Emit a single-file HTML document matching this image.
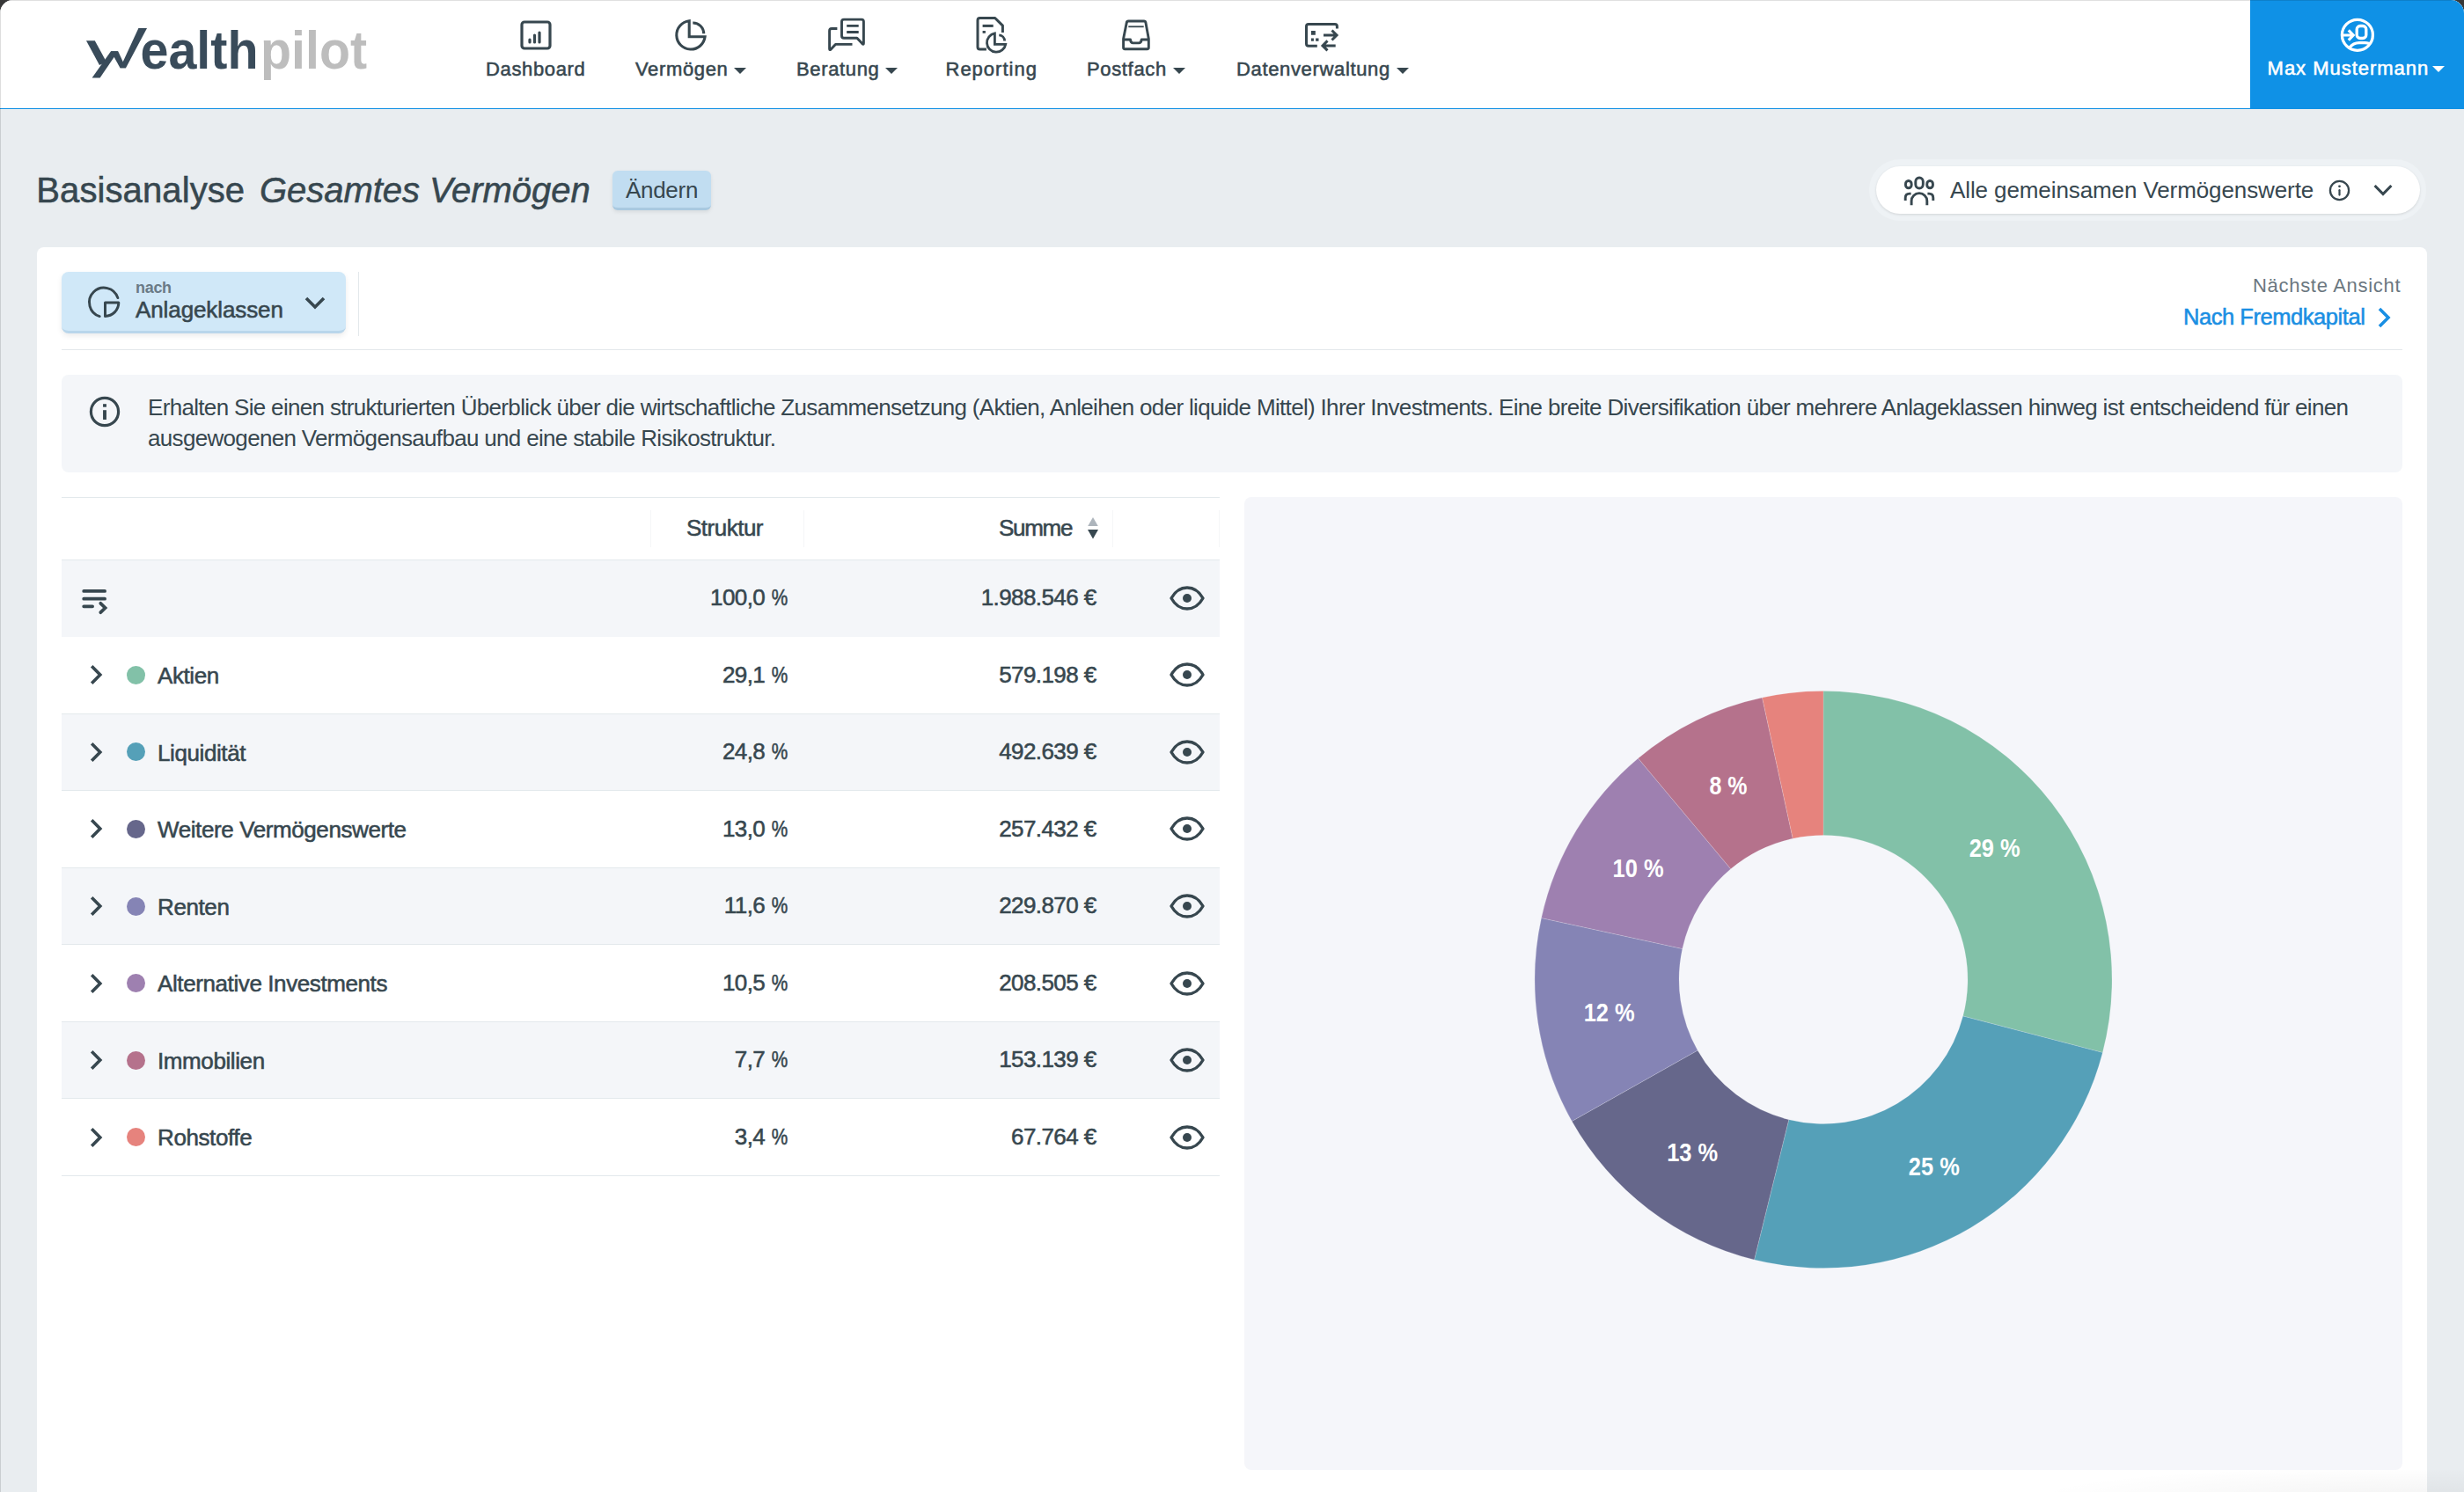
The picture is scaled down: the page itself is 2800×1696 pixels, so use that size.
<!DOCTYPE html>
<html><head><meta charset="utf-8">
<style>
*{box-sizing:border-box;margin:0;padding:0}
html,body{width:2800px;height:1696px;overflow:hidden;background:#383838}
body{font-family:"Liberation Sans",sans-serif;color:#37474f;position:relative}
#win{position:absolute;left:0;top:0;width:2800px;height:1696px;background:#e9edf0;border-radius:15px 15px 0 0;overflow:hidden}
#edgeL{position:absolute;left:0;top:0;width:1px;height:1696px;background:rgba(0,0,0,0.13);z-index:5}
#edgeT{position:absolute;left:0;top:0;width:2800px;height:1px;background:rgba(0,0,0,0.12);z-index:5}
.a{position:absolute;white-space:nowrap;line-height:1}
.med{-webkit-text-stroke:0.55px currentColor}
#nav{position:absolute;left:0;top:0;width:2800px;height:124px;background:#fff;border-bottom:1px solid #0f8fe3}
#user{position:absolute;left:2557px;top:0;width:243px;height:123px;background:#0f91e6}
.navi{position:absolute;top:0;height:122px}
.caret{display:inline-block;width:0;height:0;border-left:7px solid transparent;border-right:7px solid transparent;border-top:7px solid #37474f;vertical-align:middle}
#card{position:absolute;left:42px;top:281px;width:2716px;height:1500px;background:#fff;border-radius:8px}
.row{position:absolute;left:70px;width:1316px;height:88px}
.gray{background:#f4f6f9}
.bb{border-bottom:1px solid #e3e9ec}
.dot{position:absolute;width:21px;height:21px;border-radius:50%}
</style></head><body>
<div id="win">
  <div id="nav">
    <!-- logo -->
    <svg class="a" style="left:0;top:0" width="440" height="122" viewBox="0 0 440 122">
      <g fill="#394b5a">
        <path d="M98 46.2H107.8L121 70.5L113 74Z"/>
        <path d="M104.6 88.5H113.6L134.2 58.2H126Z"/>
        <path d="M126 58.2H134.2L143 77.2H136.5Z"/>
        <path d="M136.5 77.2H143L167 31.9H157.4Z"/>
      </g>
      <text x="159.5" y="77.5" font-family="Liberation Sans" font-weight="700" font-size="61" fill="#394b5a" textLength="134" lengthAdjust="spacingAndGlyphs">ealth</text>
      <text x="296" y="77.5" font-family="Liberation Sans" font-weight="700" font-size="61" fill="#bdbdbd" textLength="121" lengthAdjust="spacingAndGlyphs">pilot</text>
    </svg>

    <!-- nav items -->
    <svg class="a" style="left:591px;top:23px" width="36" height="34" viewBox="0 0 36 34"><rect x="2" y="2" width="32" height="30" rx="3" fill="none" stroke="#37474f" stroke-width="3.2"/><path d="M11 25v-3M16.5 25v-8M22 25v-11" stroke="#37474f" stroke-width="3.2" stroke-linecap="round"/></svg>
    <div class="a med" style="left:552px;top:68px;font-size:22px;letter-spacing:0.65px">Dashboard</div>

    <svg class="a" style="left:760px;top:16px" width="50" height="46" viewBox="0 0 50 46"><path d="M23.2 7.75V25.8H41.1A16.2 16.2 0 1 1 23.2 7.75Z" fill="none" stroke="#37474f" stroke-width="3.1"/><path d="M27.3 10A12.2 12.2 0 0 1 39.7 22.2" fill="none" stroke="#37474f" stroke-width="3.1"/></svg>
    <div class="a med" style="left:722px;top:68px;font-size:22px;letter-spacing:0.65px">Vermögen <span class="caret"></span></div>

    <svg class="a" style="left:935px;top:14px" width="60" height="50" viewBox="0 0 60 50"><path d="M21.5 10.6Q21.5 8.1 24 8.1H44Q46.4 8.1 46.4 10.6V35.3Q46.4 37.2 44.8 35.6L38.9 29.3H24Q21.5 29.3 21.5 26.8Z" fill="none" stroke="#37474f" stroke-width="2.9" stroke-linejoin="round"/><path d="M27.2 15.4H40.7M27.2 22.5H40.7" stroke="#37474f" stroke-width="2.9"/><path d="M16.4 18.5H10.1Q7.6 18.5 7.6 21V41.5Q7.6 43.6 9.2 41.9L14.4 36.4H33.5" fill="none" stroke="#37474f" stroke-width="2.9" stroke-linejoin="round"/></svg>
    <div class="a med" style="left:905px;top:68px;font-size:22px;letter-spacing:0.65px">Beratung <span class="caret"></span></div>

    <svg class="a" style="left:1100px;top:12px" width="60" height="52" viewBox="0 0 60 52"><path d="M20.9 43.9H13.5Q11 43.9 11 41.4V11Q11 8.5 13.5 8.5H30.7L39.4 17.1V25.1" fill="none" stroke="#37474f" stroke-width="3" stroke-linejoin="round"/><path d="M16.6 17.4H28.7" stroke="#37474f" stroke-width="3"/><rect x="16.6" y="23" width="3.3" height="2.8" fill="#37474f"/><path d="M30.4 25.95V38.4H42.73A10.7 10.7 0 1 1 30.4 25.95Z" fill="none" stroke="#37474f" stroke-width="2.8"/><path d="M35.3 27.8A6.9 6.9 0 0 1 41.6 34.6" fill="none" stroke="#37474f" stroke-width="2.8"/></svg>
    <div class="a med" style="left:1074.5px;top:68px;font-size:22px;letter-spacing:1.0px">Reporting</div>

    <svg class="a" style="left:1265px;top:14px" width="55" height="50" viewBox="0 0 55 50"><path d="M11.6 40V30L15.3 11.6Q15.6 10 17.2 10H35Q36.6 10 36.9 11.6L40.3 30V40Q40.3 41.7 38.6 41.7H13.3Q11.6 41.7 11.6 40Z" fill="none" stroke="#37474f" stroke-width="2.9" stroke-linejoin="round"/><path d="M11.6 31H19.5Q20 34.9 22.5 34.9H29.2Q31.7 34.9 32.2 31H40.3" fill="none" stroke="#37474f" stroke-width="2.9" stroke-linejoin="round"/><path d="M17.3 16.3H34.7" stroke="#37474f" stroke-width="1.8"/></svg>
    <div class="a med" style="left:1235px;top:68px;font-size:22px;letter-spacing:0.65px">Postfach <span class="caret"></span></div>

    <svg class="a" style="left:1475px;top:14px" width="55" height="50" viewBox="0 0 55 50"><path d="M21.8 38.2H12Q9.5 38.2 9.5 35.7V16.1Q9.5 13.6 12 13.6H41.9Q44.4 13.6 44.4 16.1V18.6" fill="none" stroke="#37474f" stroke-width="3" stroke-linejoin="round"/><path d="M14.9 20.9h4.9v4.9h-4.9zM14.9 29.5h3v3.2h-3zM20.1 29.5h3.4v3.2h-3.4z" fill="#37474f"/><path d="M29 26H43M38.5 20.5L44 26L38.5 31.5M42.7 37.9H28.5M33.5 32.4L28 37.9L33.5 43.4" fill="none" stroke="#37474f" stroke-width="3"/></svg>
    <div class="a med" style="left:1405px;top:68px;font-size:22px;letter-spacing:0.65px">Datenverwaltung <span class="caret"></span></div>

    <div id="user">
      
      <div class="a med" style="left:19.6px;top:66.5px;font-size:22px;color:#fff;letter-spacing:0.98px">Max Mustermann <span class="caret" style="border-top-color:#fff;margin-left:-3px"></span></div>
    </div>
  </div>

  <svg class="a" style="left:2650px;top:14px" width="55" height="52" viewBox="0 0 55 52"><circle cx="28.9" cy="25.8" r="17.5" fill="none" stroke="#fff" stroke-width="3.3"/><rect x="28.2" y="15.5" width="10.6" height="14" rx="3.8" fill="none" stroke="#fff" stroke-width="3.3"/><path d="M13 26H23M18.8 20.4L24.2 26L18.8 31.6" fill="none" stroke="#fff" stroke-width="3.2"/><path d="M20 40C23 36 26 34.6 31 34.6H37.5C39.5 34.6 41 35 43 35.5" fill="none" stroke="#fff" stroke-width="3.2"/></svg>
  <!-- title -->
  <div class="a med" style="left:41.3px;top:196px;font-size:40px;letter-spacing:0.1px">Basisanalyse</div><div class="a med" style="left:295px;top:196px;font-size:40px;letter-spacing:-0.05px;font-style:italic">Gesamtes Vermögen</div>
  <div class="a" style="left:696px;top:194px;width:112px;height:45px;background:#c1ddf1;border-radius:6px;border-bottom:3px solid #a9c9e0;box-shadow:0 2px 4px rgba(0,0,0,0.08)"></div>
  <div class="a" style="left:711px;top:203px;font-size:26px;letter-spacing:-0.3px">Ändern</div>

  <!-- right pill -->
  <div class="a" style="left:2124px;top:181px;width:633px;height:70px;border-radius:35px;background:#eef2f5"></div>
  <div class="a" style="left:2132px;top:189px;width:618px;height:54px;border-radius:27px;background:#fff;box-shadow:0 1px 3px rgba(0,0,0,0.12)"></div>
  <svg class="a" style="left:2155px;top:192px" width="50" height="48" viewBox="0 0 50 48"><g fill="none" stroke="#37474f" stroke-width="2.9"><rect x="10.45" y="13.55" width="6.7" height="8.2" rx="3.35" ry="3.6"/><rect x="21.8" y="9.95" width="8.5" height="12.1" rx="4.25" ry="4.6"/><rect x="34.75" y="13.55" width="6.7" height="8.2" rx="3.35" ry="3.6"/><path d="M16.6 28.1H15Q10.2 28.1 10.2 33V35.9"/><path d="M17.1 41.2V36.5A8.85 8.85 0 0 1 34.8 36.5V41.2"/><path d="M35.4 28.1H37Q41.8 28.1 41.8 33V35.9"/></g></svg>
  <div class="a" style="left:2216px;top:203px;font-size:26px;letter-spacing:-0.1px">Alle gemeinsamen Vermögenswerte</div>
  <svg class="a" style="left:2646px;top:204px" width="25" height="25" viewBox="0 0 25 25"><circle cx="12.5" cy="12.5" r="10.6" fill="none" stroke="#37474f" stroke-width="2.3"/><path d="M12.5 12.2V17.6" stroke="#37474f" stroke-width="2.2" stroke-linecap="round"/><circle cx="12.5" cy="7.8" r="1.4" fill="#37474f"/></svg>
  <svg class="a" style="left:2696px;top:208px" width="24" height="16" viewBox="0 0 24 16"><path d="M2.6 3L12 12.6L21.4 3" fill="none" stroke="#37474f" stroke-width="3.1"/></svg>

  <!-- card -->
  <div id="card"></div>
  <div class="a" style="left:70px;top:309px;width:323px;height:70px;background:#d0e8f8;border-radius:8px;border-bottom:3px solid #b9d6eb;box-shadow:0 3px 6px rgba(0,0,0,0.08)"></div>
  <svg class="a" style="left:90px;top:315px" width="60" height="55" viewBox="0 0 60 55"><path d="M23.2 44.6A16.6 16.6 0 1 1 43.9 23.6" fill="none" stroke="#37474f" stroke-width="2.9" stroke-linecap="round"/><path d="M29.5 29.1H44.8A15.3 15.3 0 0 1 29.5 44.4Z" fill="none" stroke="#37474f" stroke-width="3" stroke-linejoin="round"/></svg>
  <div class="a" style="left:154px;top:318px;font-size:18px;font-weight:700;color:#6a7a86;letter-spacing:-0.3px">nach</div>
  <div class="a med" style="left:154px;top:339px;font-size:26px;letter-spacing:-0.1px">Anlageklassen</div>
  <svg class="a" style="left:346px;top:336px" width="24" height="17" viewBox="0 0 24 17"><path d="M2 3L12 13L22 3" fill="none" stroke="#37474f" stroke-width="3.6"/></svg>
  <div class="a" style="left:407px;top:309px;width:1px;height:73px;background:#e3e8eb"></div>
  <div class="a" style="left:70px;top:397px;width:2660px;height:1px;background:#e3e8eb"></div>
  <div class="a" style="left:2560px;top:314px;font-size:22px;color:#6b7780;letter-spacing:0.7px">Nächste Ansicht</div>
  <div class="a med" style="left:2481px;top:347.5px;font-size:25.5px;color:#1a8fe3;letter-spacing:-0.45px">Nach Fremdkapital</div>
  <svg class="a" style="left:2700px;top:349px" width="18" height="24" viewBox="0 0 18 24"><path d="M4 2L14 12L4 22" fill="none" stroke="#1a8fe3" stroke-width="3.6"/></svg>

  <!-- info box -->
  <div class="a" style="left:70px;top:426px;width:2660px;height:111px;background:#f4f6f9;border-radius:8px"></div>
  <svg class="a" style="left:100px;top:449px" width="38" height="38" viewBox="0 0 38 38"><circle cx="19" cy="19" r="15.6" fill="none" stroke="#37474f" stroke-width="3.2"/><path d="M19 17.2V28" stroke="#37474f" stroke-width="3.9"/><rect x="17.05" y="10.2" width="3.9" height="3.5" fill="#37474f"/></svg>
  <div class="a" style="left:168px;top:446px;font-size:26px;line-height:34.6px;white-space:normal;width:2600px;letter-spacing:-0.675px">Erhalten Sie einen strukturierten Überblick über die wirtschaftliche Zusammensetzung (Aktien, Anleihen oder liquide Mittel) Ihrer Investments. Eine breite Diversifikation über mehrere Anlageklassen hinweg ist entscheidend für einen<br>ausgewogenen Vermögensaufbau und eine stabile Risikostruktur.</div>

  <!-- table -->
  <div class="a" style="left:70px;top:565px;width:1316px;height:1px;background:#e3e9ec"></div>
  <div class="a" style="left:739px;top:580px;width:1px;height:42px;background:#f5f6f8"></div>
  <div class="a" style="left:913px;top:580px;width:1px;height:42px;background:#f5f6f8"></div>
  <div class="a" style="left:1264px;top:580px;width:1px;height:42px;background:#f5f6f8"></div>
  <div class="a" style="left:1385px;top:580px;width:1px;height:42px;background:#f5f6f8"></div>
  <div class="a med" style="left:780px;top:587px;font-size:26px;letter-spacing:-0.5px">Struktur</div>
  <div class="a med" style="left:1135px;top:587px;font-size:26px;letter-spacing:-1.3px">Summe</div>
  <svg class="a" style="left:1234px;top:587px" width="16" height="28" viewBox="0 0 16 28"><path d="M2.2 11L8 1L13.8 11Z" fill="#adb5bc"/><path d="M2 15L8 25.6L14 15Z" fill="#37474f"/></svg>
  <div class="a" style="left:70px;top:636px;width:1316px;height:1px;background:#e3e9ec"></div>

  <!--ROWS-->
<div class="row gray" style="top:636.0px;height:87.5px"></div>
<div class="row gray" style="top:811.10px;height:87.55px"></div>
<div class="row gray" style="top:986.20px;height:87.55px"></div>
<div class="row gray" style="top:1161.30px;height:87.55px"></div>
<div class="a" style="left:70px;top:636px;width:1316px;height:1px;background:#e3e9ec"></div>
<div class="a" style="left:70px;width:1316px;top:810.50px;height:1px;background:#e3e9ec"></div>
<div class="a" style="left:70px;width:1316px;top:898.05px;height:1px;background:#e3e9ec"></div>
<div class="a" style="left:70px;width:1316px;top:985.60px;height:1px;background:#e3e9ec"></div>
<div class="a" style="left:70px;width:1316px;top:1073.15px;height:1px;background:#e3e9ec"></div>
<div class="a" style="left:70px;width:1316px;top:1160.70px;height:1px;background:#e3e9ec"></div>
<div class="a" style="left:70px;width:1316px;top:1248.25px;height:1px;background:#e3e9ec"></div>
<div class="a" style="left:70px;width:1316px;top:1335.80px;height:1px;background:#e3e9ec"></div>
<svg class="a" style="left:90px;top:661.8px" width="40" height="42" viewBox="0 0 40 42"><path d="M5.2 9.9H29.1M5.2 18.7H29.1M5.2 27.3H15.1" stroke="#37474f" stroke-width="3.75" stroke-linecap="round"/><path d="M24.3 23.8L29.6 29L24.3 34.2" fill="none" stroke="#37474f" stroke-width="3.75" stroke-linecap="round" stroke-linejoin="miter"/></svg>
<div class="a med" style="right:1904.5px;top:666.1px;font-size:26px;letter-spacing:-0.6px">100,0<span style="letter-spacing:0">&nbsp;</span><span style="display:inline-block;transform:scaleX(0.8);transform-origin:100% 50%;margin-left:-4px;letter-spacing:0">%</span></div>
<div class="a med" style="right:1554.5px;top:666.1px;font-size:26px;letter-spacing:-0.6px">1.988.546 €</div>
<svg class="a" style="left:1329px;top:665.8px" width="40" height="28" viewBox="0 0 40 28"><path d="M2 14C7 5 13 2 20 2C27 2 33 5 38 14C33 23 27 26 20 26C13 26 7 23 2 14Z" fill="none" stroke="#37474f" stroke-width="3.4" stroke-linejoin="round"/><circle cx="20" cy="14" r="5" fill="#37474f"/></svg>
<svg class="a" style="left:100px;top:755.3px" width="18" height="24" viewBox="0 0 18 24"><path d="M4.2 2.3L13.8 12L4.2 21.7" fill="none" stroke="#37474f" stroke-width="3.6"/></svg>
<div class="dot" style="left:144px;top:756.8px;background:#82c1a8"></div>
<div class="a med" style="left:179px;top:754.9px;font-size:26px;letter-spacing:-0.4px">Aktien</div>
<div class="a med" style="right:1904.5px;top:753.6px;font-size:26px;letter-spacing:-0.6px">29,1<span style="letter-spacing:0">&nbsp;</span><span style="display:inline-block;transform:scaleX(0.8);transform-origin:100% 50%;margin-left:-4px;letter-spacing:0">%</span></div>
<div class="a med" style="right:1554.5px;top:753.6px;font-size:26px;letter-spacing:-0.6px">579.198 €</div>
<svg class="a" style="left:1329px;top:753.3px" width="40" height="28" viewBox="0 0 40 28"><path d="M2 14C7 5 13 2 20 2C27 2 33 5 38 14C33 23 27 26 20 26C13 26 7 23 2 14Z" fill="none" stroke="#37474f" stroke-width="3.4" stroke-linejoin="round"/><circle cx="20" cy="14" r="5" fill="#37474f"/></svg>
<svg class="a" style="left:100px;top:842.9px" width="18" height="24" viewBox="0 0 18 24"><path d="M4.2 2.3L13.8 12L4.2 21.7" fill="none" stroke="#37474f" stroke-width="3.6"/></svg>
<div class="dot" style="left:144px;top:844.4px;background:#55a0b8"></div>
<div class="a med" style="left:179px;top:842.5px;font-size:26px;letter-spacing:-0.4px">Liquidität</div>
<div class="a med" style="right:1904.5px;top:841.2px;font-size:26px;letter-spacing:-0.6px">24,8<span style="letter-spacing:0">&nbsp;</span><span style="display:inline-block;transform:scaleX(0.8);transform-origin:100% 50%;margin-left:-4px;letter-spacing:0">%</span></div>
<div class="a med" style="right:1554.5px;top:841.2px;font-size:26px;letter-spacing:-0.6px">492.639 €</div>
<svg class="a" style="left:1329px;top:840.9px" width="40" height="28" viewBox="0 0 40 28"><path d="M2 14C7 5 13 2 20 2C27 2 33 5 38 14C33 23 27 26 20 26C13 26 7 23 2 14Z" fill="none" stroke="#37474f" stroke-width="3.4" stroke-linejoin="round"/><circle cx="20" cy="14" r="5" fill="#37474f"/></svg>
<svg class="a" style="left:100px;top:930.4px" width="18" height="24" viewBox="0 0 18 24"><path d="M4.2 2.3L13.8 12L4.2 21.7" fill="none" stroke="#37474f" stroke-width="3.6"/></svg>
<div class="dot" style="left:144px;top:931.9px;background:#66678b"></div>
<div class="a med" style="left:179px;top:930.0px;font-size:26px;letter-spacing:-0.4px">Weitere Vermögenswerte</div>
<div class="a med" style="right:1904.5px;top:928.7px;font-size:26px;letter-spacing:-0.6px">13,0<span style="letter-spacing:0">&nbsp;</span><span style="display:inline-block;transform:scaleX(0.8);transform-origin:100% 50%;margin-left:-4px;letter-spacing:0">%</span></div>
<div class="a med" style="right:1554.5px;top:928.7px;font-size:26px;letter-spacing:-0.6px">257.432 €</div>
<svg class="a" style="left:1329px;top:928.4px" width="40" height="28" viewBox="0 0 40 28"><path d="M2 14C7 5 13 2 20 2C27 2 33 5 38 14C33 23 27 26 20 26C13 26 7 23 2 14Z" fill="none" stroke="#37474f" stroke-width="3.4" stroke-linejoin="round"/><circle cx="20" cy="14" r="5" fill="#37474f"/></svg>
<svg class="a" style="left:100px;top:1018.0px" width="18" height="24" viewBox="0 0 18 24"><path d="M4.2 2.3L13.8 12L4.2 21.7" fill="none" stroke="#37474f" stroke-width="3.6"/></svg>
<div class="dot" style="left:144px;top:1019.5px;background:#8584b5"></div>
<div class="a med" style="left:179px;top:1017.6px;font-size:26px;letter-spacing:-0.4px">Renten</div>
<div class="a med" style="right:1904.5px;top:1016.3px;font-size:26px;letter-spacing:-0.6px">11,6<span style="letter-spacing:0">&nbsp;</span><span style="display:inline-block;transform:scaleX(0.8);transform-origin:100% 50%;margin-left:-4px;letter-spacing:0">%</span></div>
<div class="a med" style="right:1554.5px;top:1016.3px;font-size:26px;letter-spacing:-0.6px">229.870 €</div>
<svg class="a" style="left:1329px;top:1016.0px" width="40" height="28" viewBox="0 0 40 28"><path d="M2 14C7 5 13 2 20 2C27 2 33 5 38 14C33 23 27 26 20 26C13 26 7 23 2 14Z" fill="none" stroke="#37474f" stroke-width="3.4" stroke-linejoin="round"/><circle cx="20" cy="14" r="5" fill="#37474f"/></svg>
<svg class="a" style="left:100px;top:1105.5px" width="18" height="24" viewBox="0 0 18 24"><path d="M4.2 2.3L13.8 12L4.2 21.7" fill="none" stroke="#37474f" stroke-width="3.6"/></svg>
<div class="dot" style="left:144px;top:1107.0px;background:#9e80b0"></div>
<div class="a med" style="left:179px;top:1105.1px;font-size:26px;letter-spacing:-0.4px">Alternative Investments</div>
<div class="a med" style="right:1904.5px;top:1103.8px;font-size:26px;letter-spacing:-0.6px">10,5<span style="letter-spacing:0">&nbsp;</span><span style="display:inline-block;transform:scaleX(0.8);transform-origin:100% 50%;margin-left:-4px;letter-spacing:0">%</span></div>
<div class="a med" style="right:1554.5px;top:1103.8px;font-size:26px;letter-spacing:-0.6px">208.505 €</div>
<svg class="a" style="left:1329px;top:1103.5px" width="40" height="28" viewBox="0 0 40 28"><path d="M2 14C7 5 13 2 20 2C27 2 33 5 38 14C33 23 27 26 20 26C13 26 7 23 2 14Z" fill="none" stroke="#37474f" stroke-width="3.4" stroke-linejoin="round"/><circle cx="20" cy="14" r="5" fill="#37474f"/></svg>
<svg class="a" style="left:100px;top:1193.1px" width="18" height="24" viewBox="0 0 18 24"><path d="M4.2 2.3L13.8 12L4.2 21.7" fill="none" stroke="#37474f" stroke-width="3.6"/></svg>
<div class="dot" style="left:144px;top:1194.6px;background:#b5728c"></div>
<div class="a med" style="left:179px;top:1192.7px;font-size:26px;letter-spacing:-0.4px">Immobilien</div>
<div class="a med" style="right:1904.5px;top:1191.4px;font-size:26px;letter-spacing:-0.6px">7,7<span style="letter-spacing:0">&nbsp;</span><span style="display:inline-block;transform:scaleX(0.8);transform-origin:100% 50%;margin-left:-4px;letter-spacing:0">%</span></div>
<div class="a med" style="right:1554.5px;top:1191.4px;font-size:26px;letter-spacing:-0.6px">153.139 €</div>
<svg class="a" style="left:1329px;top:1191.1px" width="40" height="28" viewBox="0 0 40 28"><path d="M2 14C7 5 13 2 20 2C27 2 33 5 38 14C33 23 27 26 20 26C13 26 7 23 2 14Z" fill="none" stroke="#37474f" stroke-width="3.4" stroke-linejoin="round"/><circle cx="20" cy="14" r="5" fill="#37474f"/></svg>
<svg class="a" style="left:100px;top:1280.6px" width="18" height="24" viewBox="0 0 18 24"><path d="M4.2 2.3L13.8 12L4.2 21.7" fill="none" stroke="#37474f" stroke-width="3.6"/></svg>
<div class="dot" style="left:144px;top:1282.1px;background:#e6837d"></div>
<div class="a med" style="left:179px;top:1280.2px;font-size:26px;letter-spacing:-0.4px">Rohstoffe</div>
<div class="a med" style="right:1904.5px;top:1278.9px;font-size:26px;letter-spacing:-0.6px">3,4<span style="letter-spacing:0">&nbsp;</span><span style="display:inline-block;transform:scaleX(0.8);transform-origin:100% 50%;margin-left:-4px;letter-spacing:0">%</span></div>
<div class="a med" style="right:1554.5px;top:1278.9px;font-size:26px;letter-spacing:-0.6px">67.764 €</div>
<svg class="a" style="left:1329px;top:1278.6px" width="40" height="28" viewBox="0 0 40 28"><path d="M2 14C7 5 13 2 20 2C27 2 33 5 38 14C33 23 27 26 20 26C13 26 7 23 2 14Z" fill="none" stroke="#37474f" stroke-width="3.4" stroke-linejoin="round"/><circle cx="20" cy="14" r="5" fill="#37474f"/></svg>
<!--/ROWS-->

  <!-- chart panel -->
  <div class="a" style="left:1414px;top:565px;width:1316px;height:1106px;background:#f5f6fa;border-radius:8px"></div>
  <svg class="a" style="left:1414px;top:565px" width="1316" height="1106" id="chart"><!--CHART-->
<path d="M658.00 220.50A328 328 0 0 1 975.33 631.49L816.66 589.99A164 164 0 0 0 658.00 384.50Z" fill="#82c1a8" stroke="#f5f6fa" stroke-width="1" stroke-opacity="0.18"/>
<path d="M975.33 631.49A328 328 0 0 1 579.50 866.97L618.75 707.73A164 164 0 0 0 816.66 589.99Z" fill="#55a0b8" stroke="#f5f6fa" stroke-width="1" stroke-opacity="0.18"/>
<path d="M579.50 866.97A328 328 0 0 1 372.24 709.52L515.12 629.01A164 164 0 0 0 618.75 707.73Z" fill="#66678b" stroke="#f5f6fa" stroke-width="1" stroke-opacity="0.18"/>
<path d="M372.24 709.52A328 328 0 0 1 337.55 478.53L497.78 513.51A164 164 0 0 0 515.12 629.01Z" fill="#8584b5" stroke="#f5f6fa" stroke-width="1" stroke-opacity="0.18"/>
<path d="M337.55 478.53A328 328 0 0 1 447.52 296.94L552.76 422.72A164 164 0 0 0 497.78 513.51Z" fill="#9e80b0" stroke="#f5f6fa" stroke-width="1" stroke-opacity="0.18"/>
<path d="M447.52 296.94A328 328 0 0 1 588.53 227.94L623.27 388.22A164 164 0 0 0 552.76 422.72Z" fill="#b5728c" stroke="#f5f6fa" stroke-width="1" stroke-opacity="0.18"/>
<path d="M588.53 227.94A328 328 0 0 1 658.00 220.50L658.00 384.50A164 164 0 0 0 623.27 388.22Z" fill="#e6837d" stroke="#f5f6fa" stroke-width="1" stroke-opacity="0.18"/>
<text x="823.7" y="408.9" font-family="Liberation Sans" font-weight="700" font-size="30" fill="#fff" textLength="58" lengthAdjust="spacingAndGlyphs">29 %</text>
<text x="754.8" y="770.7" font-family="Liberation Sans" font-weight="700" font-size="30" fill="#fff" textLength="58" lengthAdjust="spacingAndGlyphs">25 %</text>
<text x="480.2" y="755.1" font-family="Liberation Sans" font-weight="700" font-size="30" fill="#fff" textLength="58" lengthAdjust="spacingAndGlyphs">13 %</text>
<text x="385.7" y="595.8" font-family="Liberation Sans" font-weight="700" font-size="30" fill="#fff" textLength="58" lengthAdjust="spacingAndGlyphs">12 %</text>
<text x="418.6" y="431.8" font-family="Liberation Sans" font-weight="700" font-size="30" fill="#fff" textLength="58" lengthAdjust="spacingAndGlyphs">10 %</text>
<text x="528.4" y="338.3" font-family="Liberation Sans" font-weight="700" font-size="30" fill="#fff" textLength="43" lengthAdjust="spacingAndGlyphs">8 %</text>
<!--/CHART--></svg>
<div class="a" style="left:2300px;top:1671px;width:500px;height:25px;background:radial-gradient(ellipse 430px 34px at 440px 30px, rgba(0,0,0,0.045), rgba(0,0,0,0) 100%);z-index:4"></div><div id="edgeL"></div><div id="edgeT"></div>
</div>
</body></html>
